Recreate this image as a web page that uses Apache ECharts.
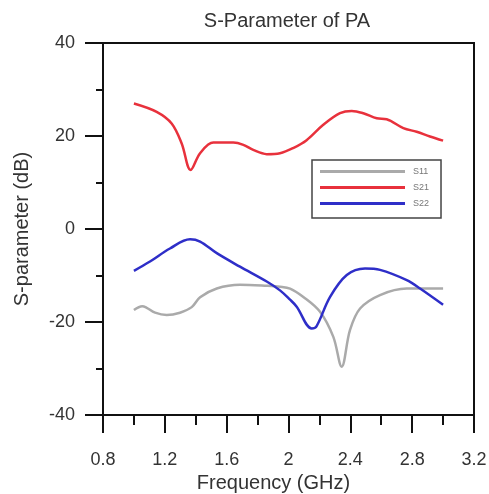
<!DOCTYPE html>
<html><head><meta charset="utf-8">
<script src="https://cdn.jsdelivr.net/npm/echarts@6/dist/echarts.min.js"></script>
<style>html,body{margin:0;padding:0;background:#fff}#c{width:489px;height:494px}</style>
</head><body><div id="c"></div>
<script>
const title = "S-Parameter of PA";
const xName = "Frequency (GHz)";
const yName = "S-parameter (dB)";
const seriesNames = ["S11", "S21", "S22"];
const s11 = [[1.0,-17.4],[1.054,-16.6],[1.08,-16.9],[1.137,-18.0],[1.212,-18.5],[1.298,-18.0],[1.374,-16.8],[1.428,-14.7],[1.536,-12.8],[1.686,-12.0],[1.859,-12.2],[1.945,-12.4],[2.01,-12.8],[2.096,-14.6],[2.204,-17.8],[2.29,-23.2],[2.344,-29.6],[2.398,-21.7],[2.463,-17.1],[2.592,-14.2],[2.765,-12.8],[3.0,-12.8]];
const s21 = [[1.0,27.0],[1.147,25.2],[1.244,22.7],[1.309,18.4],[1.367,12.7],[1.428,16.3],[1.514,18.6],[1.643,18.6],[1.708,18.1],[1.772,17.0],[1.859,16.1],[1.945,16.3],[2.03,17.4],[2.117,19.1],[2.225,22.4],[2.333,24.9],[2.409,25.4],[2.484,24.9],[2.571,23.8],[2.635,23.6],[2.743,21.7],[2.829,20.9],[2.915,19.9],[3.0,19.0]];
const s22 = [[1.0,-9.0],[1.104,-7.0],[1.233,-4.2],[1.363,-2.2],[1.428,-2.7],[1.536,-5.2],[1.686,-8.1],[1.859,-11.3],[1.945,-13.2],[2.01,-15.2],[2.053,-16.7],[2.15,-21.4],[2.18,-21.0],[2.269,-14.6],[2.377,-9.9],[2.495,-8.5],[2.592,-8.8],[2.765,-11.0],[2.851,-12.8],[3.0,-16.3]];
const colors = ["#aaaaaa", "#e8313c", "#2e2ec8"];
const font = "Liberation Sans, Arial, sans-serif";

const chart = echarts.init(document.getElementById('c'), null, {renderer: 'canvas'});
const data = [s11, s21, s22];
chart.setOption({
  animation: false,
  backgroundColor: '#fff',
  title: {text: title, left: 282, textAlign: 'center', top: 6,
    textStyle: {fontFamily: font, fontSize: 20, fontWeight: 'normal', color: '#333'}},
  grid: {left: 103, right: 15, top: 43, bottom: 79, show: true, borderColor: '#111', borderWidth: 2,
    containLabel: false, outerBoundsMode: 'none'},
  legend: {
    data: seriesNames, orient: 'vertical', left: 312, top: 160,
    icon: 'rect', itemWidth: 85, itemHeight: 3, itemGap: 7,
    padding: [7, 12, 10, 8], borderColor: '#444', borderWidth: 1.5, backgroundColor: '#fff',
    textStyle: {fontFamily: font, fontSize: 9, color: '#777', padding: [0,0,0,3]}
  },
  xAxis: {
    type: 'value', min: 0.8, max: 3.2, interval: 0.4,
    name: xName, nameLocation: 'middle', nameGap: 50,
    nameTextStyle: {fontFamily: font, fontSize: 20, color: '#333', padding: [0, 30, 0, 0]},
    axisLine: {onZero: false, lineStyle: {color: '#111', width: 2}},
    axisTick: {show: true, inside: false, length: 18, lineStyle: {color: '#111', width: 2}},
    minorTick: {show: true, splitNumber: 2, length: 10, lineStyle: {color: '#111', width: 2}},
    splitLine: {show: false},
    axisLabel: {fontFamily: font, fontSize: 18, color: '#333', margin: 36,
      formatter: v => String(Math.round(v*10)/10)}
  },
  yAxis: {
    type: 'value', min: -40, max: 40, interval: 20,
    name: yName, nameLocation: 'middle', nameGap: 71,
    nameTextStyle: {fontFamily: font, fontSize: 20, color: '#333'},
    axisLine: {onZero: false, lineStyle: {color: '#111', width: 2}},
    axisTick: {show: true, inside: false, length: 18, lineStyle: {color: '#111', width: 2}},
    minorTick: {show: true, splitNumber: 2, length: 7, lineStyle: {color: '#111', width: 2}},
    splitLine: {show: false},
    axisLabel: {fontFamily: font, fontSize: 18, color: '#333', margin: 28}
  },
  series: seriesNames.map((n, i) => ({
    name: n, type: 'line', data: data[i], smooth: 0.35, showSymbol: false,
    color: colors[i], lineStyle: {width: 2.5, color: colors[i]}
  }))
});
</script></body></html>
